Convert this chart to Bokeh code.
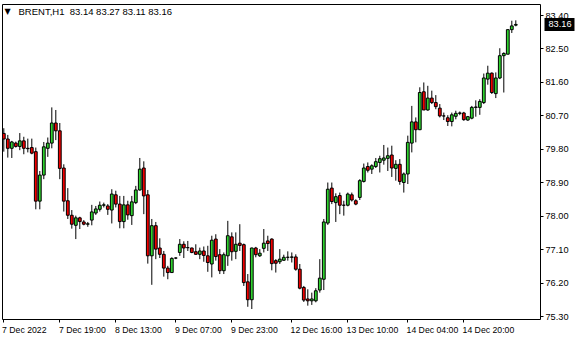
from bokeh.plotting import figure
from bokeh.models import (Range1d, FixedTicker, Label, ColumnDataSource, CustomJSTickFormatter,
                          PrintfTickFormatter, LinearAxis)
from bokeh.embed import file_html
from bokeh.resources import INLINE

symbol = "BRENT,H1"

opens = [80.23, 80.08, 79.83, 79.97, 79.88, 80.03, 79.83, 79.85, 79.74, 78.41,
         79.11, 79.83, 79.97, 80.51, 80.30, 79.30, 78.42, 78.03, 77.76, 77.96,
         77.85, 77.79, 77.90, 78.09, 78.19, 78.30, 78.28, 78.17, 78.58, 78.33,
         77.86, 78.31, 78.02, 78.37, 78.71, 79.30, 78.58, 76.94, 77.75, 77.15,
         76.98, 76.61, 76.49, 76.88, 77.03, 77.25, 77.16, 77.15, 77.05, 76.98,
         77.07, 76.94, 76.72, 77.39, 76.97, 76.54, 76.94, 77.45, 77.06, 77.28,
         77.24, 76.24, 75.76, 77.15, 76.94, 77.14, 77.34, 77.39, 76.81, 76.78,
         76.82, 76.90, 76.90, 76.91, 76.58, 76.09, 75.78, 75.73, 75.73, 76.02,
         76.31, 77.82, 78.76, 78.37, 78.56, 78.30, 78.30, 78.58, 78.42, 78.51,
         78.94, 79.34, 79.27, 79.34, 79.45, 79.51, 79.56, 79.65, 79.29, 79.40,
         78.91, 79.14, 79.97, 80.54, 80.33, 81.35, 80.86, 81.18, 81.06, 80.91,
         80.70, 80.65, 80.55, 80.69, 80.77, 80.78, 80.59, 80.64, 80.93, 80.93,
         81.06, 81.69, 81.85, 81.30, 81.72, 82.32, 82.36, 83.02, 83.14]
highs = [80.37, 80.19, 80.03, 80.01, 80.24, 80.14, 80.09, 80.09, 79.85, 79.22,
         80.00, 80.12, 80.93, 80.86, 80.51, 79.40, 78.76, 78.17, 78.02, 77.99,
         77.90, 77.85, 78.31, 78.28, 78.40, 78.37, 78.33, 78.73, 78.69, 78.55,
         78.55, 78.42, 78.55, 78.82, 79.57, 79.48, 78.71, 77.93, 77.85, 77.41,
         77.07, 76.67, 76.90, 76.90, 77.39, 77.33, 77.34, 77.16, 77.25, 77.16,
         77.19, 77.21, 77.48, 77.52, 77.12, 77.03, 77.88, 77.57, 77.57, 77.79,
         77.27, 76.45, 77.16, 77.18, 77.12, 77.66, 77.48, 77.41, 76.85, 77.12,
         76.97, 77.06, 77.03, 76.98, 76.72, 76.13, 76.04, 75.95, 76.07, 76.85,
         77.93, 78.91, 78.91, 78.62, 78.64, 78.42, 78.64, 78.64, 78.46, 79.00,
         79.42, 79.45, 79.40, 79.57, 79.63, 79.92, 79.85, 79.90, 79.51, 79.54,
         79.18, 80.17, 80.97, 80.66, 81.47, 81.60, 81.51, 81.38, 81.26, 81.02,
         80.79, 80.72, 80.79, 80.84, 80.82, 80.81, 80.70, 80.97, 81.12, 81.15,
         81.84, 82.05, 81.87, 81.87, 82.52, 82.41, 83.02, 83.26, 83.27]
lows = [79.74, 79.58, 79.57, 79.85, 79.78, 79.67, 79.72, 79.67, 78.19, 78.19,
        79.00, 79.60, 79.83, 80.05, 79.00, 78.13, 77.93, 77.67, 77.39, 77.66,
        77.76, 77.72, 77.76, 78.04, 78.13, 78.24, 78.04, 77.81, 78.24, 77.68,
        77.68, 77.91, 77.77, 78.33, 78.69, 78.06, 76.73, 76.16, 76.85, 76.88,
        76.38, 76.31, 76.49, 76.85, 76.94, 76.88, 77.07, 77.01, 76.97, 76.85,
        76.78, 76.51, 76.36, 76.81, 76.45, 76.45, 76.67, 76.81, 76.85, 77.07,
        76.13, 75.57, 75.51, 76.90, 76.91, 77.03, 77.07, 76.55, 76.49, 76.72,
        76.81, 76.81, 76.76, 76.54, 76.04, 75.70, 75.60, 75.62, 75.69, 75.95,
        76.02, 77.77, 78.33, 77.85, 78.06, 78.02, 78.27, 78.40, 78.30, 78.44,
        78.91, 79.18, 79.14, 79.30, 79.18, 79.39, 79.22, 79.06, 78.96, 78.85,
        78.64, 78.87, 79.72, 79.99, 80.32, 80.86, 80.84, 81.02, 80.88, 80.66,
        80.59, 80.43, 80.42, 80.61, 80.72, 80.57, 80.57, 80.61, 80.68, 80.73,
        81.02, 81.54, 81.29, 81.18, 81.69, 81.33, 82.36, 82.93, 83.11]
closes = [80.08, 79.83, 80.00, 79.88, 80.03, 79.83, 79.82, 79.70, 78.41, 79.11,
          79.87, 79.97, 80.51, 80.30, 79.29, 78.41, 78.03, 77.79, 77.96, 77.86,
          77.79, 77.80, 78.12, 78.20, 78.30, 78.31, 78.19, 78.60, 78.33, 77.86,
          78.31, 78.04, 78.39, 78.71, 79.27, 78.55, 76.94, 77.75, 77.12, 76.98,
          76.61, 76.49, 76.87, 76.88, 77.25, 77.15, 77.16, 77.03, 76.98, 77.07,
          76.95, 76.76, 77.36, 76.92, 76.54, 76.97, 77.48, 77.05, 77.25, 77.22,
          76.22, 75.76, 77.15, 76.97, 77.01, 77.28, 77.27, 76.73, 76.74, 76.85,
          76.90, 76.90, 76.91, 76.58, 76.07, 75.75, 75.73, 75.78, 76.00, 76.34,
          77.85, 78.73, 78.40, 78.53, 78.30, 78.30, 78.60, 78.44, 78.33, 78.96,
          79.30, 79.24, 79.36, 79.47, 79.55, 79.57, 79.63, 79.30, 79.40, 78.94,
          79.14, 79.99, 80.54, 80.33, 81.33, 80.86, 81.18, 81.06, 80.95, 80.70,
          80.70, 80.55, 80.73, 80.77, 80.78, 80.60, 80.68, 80.93, 80.94, 81.09,
          81.72, 81.85, 81.33, 81.72, 82.32, 82.38, 83.02, 83.12, 83.16]

x_tick_bars = [0, 14, 28, 43, 57, 72, 86, 101, 115]
x_tick_labels = ["7 Dec 2022", "7 Dec 19:00", "8 Dec 13:00", "9 Dec 07:00",
                 "9 Dec 23:00", "12 Dec 16:00", "13 Dec 10:00", "14 Dec 04:00",
                 "14 Dec 20:00"]
price_ticks = [75.30, 76.20, 77.10, 78.00, 78.90, 79.80, 80.70, 81.60, 82.50, 83.40]

# layout constants
W, H = 580, 340
frame_left, frame_top, frame_right, frame_bottom = 2, 4, 540, 319
fw = frame_right - frame_left
fh = frame_bottom - frame_top
px_per_bar = 4.0
x0 = -0.325
x1 = x0 + fw / px_per_bar
px_per_price = 37.2
y1 = 83.40 + 11 / px_per_price
y0 = y1 - fh / px_per_price

FONT = "Liberation Sans"
YFS = 9.2
n = len(opens)
xs = list(range(n))
up = [c >= o for o, c in zip(opens, closes)]
src = ColumnDataSource(dict(
    x=xs, o=opens, h=highs, l=lows, c=closes,
    top=[max(o, c) for o, c in zip(opens, closes)],
    bot=[min(o, c) for o, c in zip(opens, closes)],
    color=["#2ed12e" if u else "#f00000" for u in up],
))

p = figure(width=W, height=H, x_range=Range1d(x0, x1), y_range=Range1d(y0, y1),
           output_backend="svg", toolbar_location=None, y_axis_location=None,
           min_border_left=frame_left, min_border_top=frame_top,
           min_border_right=W - frame_right, min_border_bottom=H - frame_bottom)
p.background_fill_color = "white"
p.border_fill_color = "white"
p.outline_line_color = "black"
p.outline_line_width = 1
p.grid.visible = False

p.segment(x0="x", y0="l", x1="x", y1="h", source=src, line_color="black", line_width=1)
p.vbar(x="x", bottom="bot", top="top", width=0.7, source=src,
       fill_color="color", line_color="black", line_width=1)

# x axis: labels start at the tick mark (minor ticks = real tick positions)
label_px = [len(t) * 4.1 for t in x_tick_labels]
centers = [b + w / 2 / px_per_bar for b, w in zip(x_tick_bars, label_px)]
xa = p.xaxis[0]
xa.ticker = FixedTicker(ticks=centers, minor_ticks=x_tick_bars)
xa.formatter = CustomJSTickFormatter(args=dict(labels=x_tick_labels),
                                     code="return labels[index] || '';")
xa.axis_line_color = None
xa.major_tick_line_color = None
xa.major_tick_out = 3
xa.major_tick_in = 0
xa.minor_tick_line_color = "black"
xa.minor_tick_out = 3
xa.minor_tick_in = 0
xa.major_label_standoff = 2
xa.major_label_text_font = FONT
xa.major_label_text_font_size = "8.7px"
xa.major_label_text_color = "black"

# price scale
ya = LinearAxis(ticker=FixedTicker(ticks=price_ticks), formatter=PrintfTickFormatter(format="%.2f"))
ya.axis_line_color = None
ya.major_tick_line_color = "black"
ya.major_tick_out = 3
ya.major_tick_in = 0
ya.minor_tick_line_color = None
ya.major_label_standoff = 2
ya.major_label_text_font = FONT
ya.major_label_text_font_size = "%gpx" % YFS
ya.major_label_text_color = "black"
p.add_layout(ya, "right")

# current-price marker: a second price axis with one thick tick drawn back over the scale
label_w = round(2.502 * YFS)          # width of "83.40"
axis1 = 3 + 2 + label_w               # extent of the first price axis
cp = LinearAxis(ticker=FixedTicker(ticks=[closes[-1]]), formatter=PrintfTickFormatter(format="%.2f"))
cp.axis_line_color = None
cp.minor_tick_line_color = None
cp.major_tick_line_color = "black"
cp.major_tick_line_width = 13
cp.major_tick_line_cap = "butt"
cp.major_tick_in = axis1 - 1
cp.major_tick_out = 3
cp.major_label_standoff = -(axis1 + 3 - 5)
cp.major_label_text_font = FONT
cp.major_label_text_font_size = "%gpx" % YFS
cp.major_label_text_color = "white"
p.add_layout(cp, "right")

# header
hy = y1 - (11 - frame_top) / px_per_price
p.add_layout(Label(x=x0 + (4 - frame_left) / px_per_bar, y=hy,
                   text="\u25BC", text_font="DejaVu Sans", text_font_size="8px",
                   text_baseline="middle", text_color="black"))
head = "%s\u00a0\u00a0%.2f %.2f %.2f %.2f" % (symbol, opens[-1], highs[-1], lows[-1], closes[-1])
p.add_layout(Label(x=x0 + (18 - frame_left) / px_per_bar, y=hy,
                   text=head, text_font=FONT, text_font_size="9.5px",
                   text_baseline="middle", text_color="black"))

open("out.html", "w").write(file_html(p, INLINE))
